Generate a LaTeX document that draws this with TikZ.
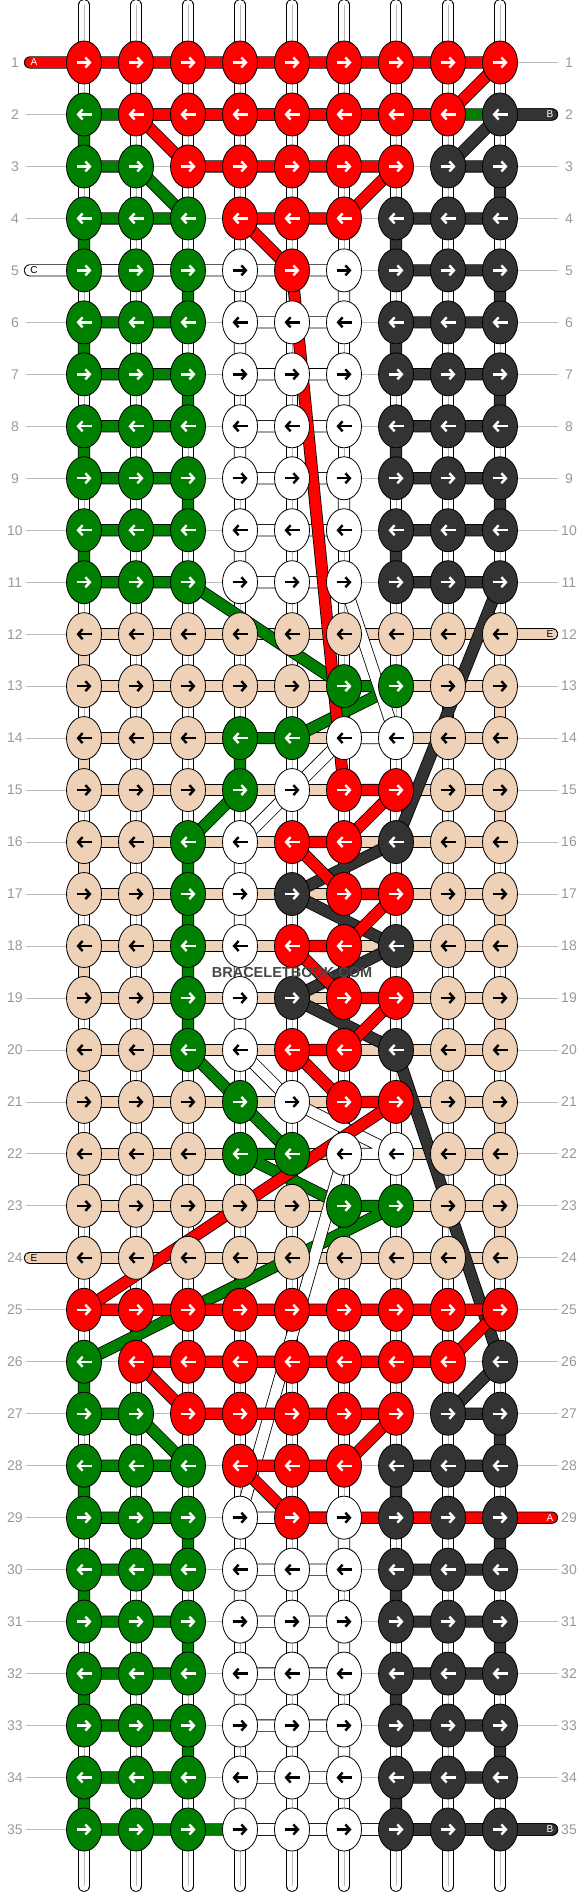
\documentclass[tikz,border=0pt]{standalone}
\usepackage{fontspec}
\setmainfont{Liberation Sans}
\usetikzlibrary{arrows.meta,shapes.geometric}
\definecolor{cRed}{HTML}{FF0000}
\definecolor{cGreen}{HTML}{008000}
\definecolor{cDark}{HTML}{333333}
\definecolor{cPeach}{HTML}{EFD1B8}
\definecolor{cGrid}{HTML}{BBBBBB}
\definecolor{cNum}{HTML}{999999}
\pgfdeclarelayer{back}
\pgfdeclarelayer{mid}
\pgfsetlayers{back,mid,main}
\newcommand\rowy[1]{62.5+51.97*(#1-1)}

\begin{document}
\begin{tikzpicture}[x=1pt,y=-1pt,
  knot/.style={ellipse,draw=black,line width=0.8pt,minimum width=35pt,minimum height=43pt,inner sep=0pt},
  knR/.style={knot,fill=cRed},
  knG/.style={knot,fill=cGreen},
  knK/.style={knot,fill=cDark},
  knW/.style={knot,fill=white},
  knP/.style={knot,fill=cPeach},
  arR/.style={white},arG/.style={white},arK/.style={white},
  arW/.style={black},arP/.style={black},
  arw/.style={line width=2.4pt,-{Straight Barb[length=4.5pt,width=10pt]}},
  strand/.style={draw=black,line width=0.8pt,double distance=10.6pt,line cap=round,line join=round},
  strA/.style={strand,double=cRed},
  strB/.style={strand,double=cDark},
  strC/.style={strand,double=white},
  strD/.style={strand,double=cGreen},
  strE/.style={strand,double=cPeach},
  base/.style={draw=black,line width=0.8pt,double=white,double distance=10pt,line cap=round},
  rowline/.style={cGrid,line width=0.8pt},
  rownum/.style={text=cNum,font=\fontsize{14}{14}\selectfont,inner sep=0pt},
  tailtxt/.style={font=\fontsize{10}{10}\selectfont,inner sep=0pt}]

  \useasboundingbox (0,0) rectangle (584,1892);

  % knots, row by row
  \foreach \r/\cols in {
    1/{R,R,R,R,R,R,R,R,R}, 2/{G,R,R,R,R,R,R,R,K}, 3/{G,G,R,R,R,R,R,K,K},
    4/{G,G,G,R,R,R,K,K,K}, 5/{G,G,G,W,R,W,K,K,K}, 6/{G,G,G,W,W,W,K,K,K},
    7/{G,G,G,W,W,W,K,K,K}, 8/{G,G,G,W,W,W,K,K,K}, 9/{G,G,G,W,W,W,K,K,K},
    10/{G,G,G,W,W,W,K,K,K}, 11/{G,G,G,W,W,W,K,K,K}, 12/{P,P,P,P,P,P,P,P,P},
    13/{P,P,P,P,P,G,G,P,P}, 14/{P,P,P,G,G,W,W,P,P}, 15/{P,P,P,G,W,R,R,P,P},
    16/{P,P,G,W,R,R,K,P,P}, 17/{P,P,G,W,K,R,R,P,P}, 18/{P,P,G,W,R,R,K,P,P},
    19/{P,P,G,W,K,R,R,P,P}, 20/{P,P,G,W,R,R,K,P,P}, 21/{P,P,P,G,W,R,R,P,P},
    22/{P,P,P,G,G,W,W,P,P}, 23/{P,P,P,P,P,G,G,P,P}, 24/{P,P,P,P,P,P,P,P,P},
    25/{R,R,R,R,R,R,R,R,R}, 26/{G,R,R,R,R,R,R,R,K}, 27/{G,G,R,R,R,R,R,K,K},
    28/{G,G,G,R,R,R,K,K,K}, 29/{G,G,G,W,R,W,K,K,K}, 30/{G,G,G,W,W,W,K,K,K},
    31/{G,G,G,W,W,W,K,K,K}, 32/{G,G,G,W,W,W,K,K,K}, 33/{G,G,G,W,W,W,K,K,K},
    34/{G,G,G,W,W,W,K,K,K}, 35/{G,G,G,W,W,W,K,K,K}}{
    \foreach \cl [count=\c] in \cols {
      \node[kn\cl] (k-\r-\c) at ({84+52*(\c-1)},{\rowy{\r}}) {};
      \ifodd\r
        \draw[arw,ar\cl] ([xshift=-7.5pt]k-\r-\c.center) -- ([xshift=7.5pt]k-\r-\c.center);
      \else
        \draw[arw,ar\cl] ([xshift=7.5pt]k-\r-\c.center) -- ([xshift=-7.5pt]k-\r-\c.center);
      \fi
    }
  }

  % row numbers
  \foreach \r in {1,...,35}{
    \node[rownum] (numL-\r) at (15,{\rowy{\r}}) {\r};
    \node[rownum] (numR-\r) at (569,{\rowy{\r}}) {\r};
  }

  % string ends
  \coordinate (A-in) at (30,{\rowy{1}});
  \coordinate (B-in) at (552,{\rowy{2}});
  \coordinate (D-in) at (552,{\rowy{2}});
  \coordinate (C-in) at (30,{\rowy{5}});
  \coordinate (E-in) at (552,{\rowy{12}});
  \coordinate (E-out) at (30,{\rowy{24}});
  \coordinate (A-out) at (552,{\rowy{29}});
  \coordinate (B-out) at (552,{\rowy{35}});
  \coordinate (C-out) at (552,{\rowy{35}});
  \coordinate (D-out) at (552,{\rowy{35}});

  \begin{pgfonlayer}{back}
    \foreach \r in {1,...,35}
      \draw[rowline] (26,{\rowy{\r}}) -- (558,{\rowy{\r}});
    \foreach \c in {1,...,9}{
      \draw[base] ([yshift=57.5pt]k-1-\c.center) -- ([yshift=-56.5pt]k-35-\c.center);
      \draw[cGrid,line width=0.6pt] ([yshift=57.5pt]k-1-\c.center) -- ([yshift=-56.5pt]k-35-\c.center);
    }
  \end{pgfonlayer}

  \begin{pgfonlayer}{mid}
    % E, peach
    \draw[strE] (E-in)
      \foreach \r/\s in {12/13,14/15,16/17,18/19,20/21,22/23}{
        -- (k-\r-9.center) -- (k-\r-1.center) -- (k-\s-1.center) -- (k-\s-9.center)}
      -- (k-24-9.center) -- (E-out);
    % D, green
    \draw[strD] (D-in) -- (k-2-1.center) -- (k-3-1.center) -- (k-3-2.center)
      -- (k-4-3.center) -- (k-4-1.center)
      \foreach \r/\s in {5/6,7/8,9/10}{
        -- (k-\r-1.center) -- (k-\r-3.center) -- (k-\s-3.center) -- (k-\s-1.center)}
      -- (k-11-1.center) -- (k-11-3.center) -- (k-13-6.center) -- (k-13-7.center)
      -- (k-14-5.center) -- (k-14-4.center) -- (k-15-4.center) -- (k-16-3.center)
      -- (k-20-3.center) -- (k-21-4.center) -- (k-22-5.center) -- (k-22-4.center)
      -- (k-23-6.center) -- (k-23-7.center) -- (k-26-1.center) -- (k-27-1.center)
      -- (k-27-2.center) -- (k-28-3.center) -- (k-28-1.center)
      \foreach \r/\s in {29/30,31/32,33/34}{
        -- (k-\r-1.center) -- (k-\r-3.center) -- (k-\s-3.center) -- (k-\s-1.center)}
      -- (k-35-1.center) -- (D-out);
    % C, white
    \draw[strC] (C-in) -- (k-5-6.center)
      \foreach \r/\s in {6/7,8/9,10/11}{
        -- (k-\r-6.center) -- (k-\r-4.center) -- (k-\s-4.center) -- (k-\s-6.center)}
      -- (k-14-7.center) -- (k-14-6.center) -- (k-15-5.center) -- (k-16-4.center)
      -- (k-20-4.center) -- (k-21-5.center) -- (k-22-7.center) -- (k-22-6.center)
      -- (k-29-4.center) -- (k-29-6.center)
      \foreach \r/\s in {30/31,32/33,34/35}{
        -- (k-\r-6.center) -- (k-\r-4.center) -- (k-\s-4.center) -- (k-\s-6.center)}
      -- (C-out);
    % B, dark
    \draw[strB] (B-in) -- (k-2-9.center) -- (k-3-8.center) -- (k-3-9.center)
      -- (k-4-9.center) -- (k-4-7.center)
      \foreach \r/\s in {5/6,7/8,9/10}{
        -- (k-\r-7.center) -- (k-\r-9.center) -- (k-\s-9.center) -- (k-\s-7.center)}
      -- (k-11-7.center) -- (k-11-9.center) -- (k-16-7.center) -- (k-17-5.center)
      -- (k-18-7.center) -- (k-19-5.center) -- (k-20-7.center) -- (k-26-9.center)
      -- (k-27-8.center) -- (k-27-9.center) -- (k-28-9.center) -- (k-28-7.center)
      \foreach \r/\s in {29/30,31/32,33/34}{
        -- (k-\r-7.center) -- (k-\r-9.center) -- (k-\s-9.center) -- (k-\s-7.center)}
      -- (k-35-7.center) -- (B-out);
    % A, red
    \draw[strA] (A-in) -- (k-1-9.center) -- (k-2-8.center) -- (k-2-2.center)
      -- (k-3-3.center) -- (k-3-7.center) -- (k-4-6.center) -- (k-4-4.center)
      -- (k-5-5.center) -- (k-15-6.center) -- (k-15-7.center)
      \foreach \r/\s in {16/17,18/19,20/21}{
        -- (k-\r-6.center) -- (k-\r-5.center) -- (k-\s-6.center) -- (k-\s-7.center)}
      -- (k-25-1.center) -- (k-25-9.center) -- (k-26-8.center) -- (k-26-2.center)
      -- (k-27-3.center) -- (k-27-7.center) -- (k-28-6.center) -- (k-28-4.center)
      -- (k-29-5.center) -- (A-out);
  \end{pgfonlayer}

  % letters on the string ends
  \node[tailtxt,white] (tA-in) at ([xshift=4pt]A-in) {A};
  \node[tailtxt,white] (tB-in) at ([xshift=-2pt]B-in) {B};
  \node[tailtxt] (tC-in) at ([xshift=4pt]C-in) {C};
  \node[tailtxt] (tE-in) at ([xshift=-2pt]E-in) {E};
  \node[tailtxt] (tE-out) at ([xshift=4pt]E-out) {E};
  \node[tailtxt,white] (tA-out) at ([xshift=-2pt]A-out) {A};
  \node[tailtxt,white] (tB-out) at ([xshift=-2pt]B-out) {B};

  \node[text=cDark!90,font=\bfseries\fontsize{14.5}{14.5}\selectfont] (wm) at (292,972) {BRACELETBOOK.COM};
\end{tikzpicture}
\end{document}
